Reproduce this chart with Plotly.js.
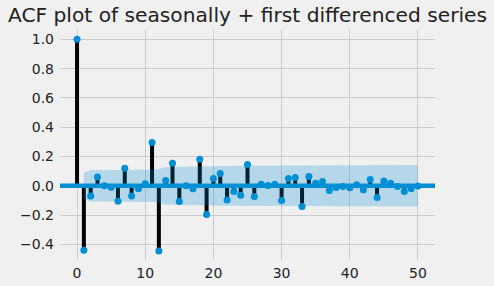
<!DOCTYPE html>
<html>
<head>
<meta charset="utf-8">
<script src="https://cdn.plot.ly/plotly-3.0.1.min.js"></script>
<style>
html,body{margin:0;padding:0;background:#f0f0f0;}
#chart{width:494px;height:286px;}
</style>
</head>
<body>
<div id="chart"></div>
<script>
// Lags and autocorrelation values
const lags = [0,1,2,3,4,5,6,7,8,9,10,11,12,13,14,15,16,17,18,19,20,21,22,23,24,25,26,27,28,29,30,31,32,33,34,35,36,37,38,39,40,41,42,43,44,45,46,47,48,49,50];
const acfValues = [1.0,-0.44,-0.07,0.06,0.0,-0.01,-0.105,0.12,-0.07,-0.02,0.014,0.296,-0.446,0.036,0.153,-0.107,0.0,-0.02,0.182,-0.196,0.05,0.084,-0.098,-0.039,-0.064,0.146,-0.073,0.011,0.002,0.011,-0.10,0.05,0.057,-0.141,0.064,0.018,0.03,-0.032,-0.011,-0.005,-0.014,0.007,-0.027,0.043,-0.08,0.032,0.018,-0.005,-0.039,-0.02,-0.002];
// Confidence band half-width for lags 1..50
const bandLags = lags.slice(1);
const bandHalfWidth = [0.090,0.107,0.107,0.107,0.107,0.107,0.108,0.109,0.109,0.110,0.110,0.116,0.129,0.129,0.131,0.131,0.131,0.131,0.133,0.136,0.136,0.136,0.137,0.137,0.137,0.139,0.139,0.139,0.139,0.139,0.139,0.140,0.140,0.141,0.141,0.141,0.141,0.141,0.141,0.141,0.141,0.141,0.141,0.141,0.142,0.142,0.142,0.142,0.142,0.142];
const xTicks = [0,10,20,30,40,50];
const yTicks = [-0.4,-0.2,0.0,0.2,0.4,0.6,0.8,1.0];
const titleText = 'ACF plot of seasonally + first differenced series';

const xRange = [-2.5, 52.5];
const yRange = [-0.507, 1.064];

const blue = '#008fd5';

// stems
const stemX = [], stemY = [];
lags.forEach((l, i) => { stemX.push(l, l, null); stemY.push(0, acfValues[i], null); });

const traces = [
  {x: stemX, y: stemY, mode: 'lines', line: {color: '#000000', width: 4}, hoverinfo: 'skip', showlegend: false},
  {x: xRange, y: [0, 0], mode: 'lines', line: {color: blue, width: 4.5}, hoverinfo: 'skip', showlegend: false},
  {x: lags, y: acfValues, mode: 'markers', marker: {color: blue, size: 7}, showlegend: false},
  {x: bandLags.concat(bandLags.slice().reverse()),
   y: bandHalfWidth.concat(bandHalfWidth.slice().reverse().map(v => -v)),
   mode: 'lines', fill: 'toself', fillcolor: 'rgba(0,143,213,0.25)', line: {width: 0}, hoverinfo: 'skip', showlegend: false}
];

const font = {family: 'DejaVu Sans, sans-serif', color: '#222222'};

const layout = {
  width: 494, height: 286,
  paper_bgcolor: '#f0f0f0', plot_bgcolor: '#f0f0f0',
  margin: {l: 60, r: 59, t: 30, b: 26, pad: 0},
  font: font,
  title: {text: titleText, font: {family: 'DejaVu Sans, sans-serif', size: 20.2, color: '#222222'},
          x: 0.5, xref: 'paper', xanchor: 'center', y: 0.948, yref: 'container', yanchor: 'middle'},
  xaxis: {range: xRange, tickvals: xTicks, ticktext: xTicks.map(String), showgrid: true, gridcolor: '#cbcbcb', gridwidth: 1,
          zeroline: false, showline: false, ticks: '', tickfont: {size: 14, family: 'DejaVu Sans, sans-serif', color: '#222222'}, ticklabelstandoff: 3},
  yaxis: {range: yRange, tickvals: yTicks, tickformat: '.1f', showgrid: true, gridcolor: '#cbcbcb', gridwidth: 1,
          zeroline: false, showline: false, ticks: '', tickfont: {size: 14, family: 'DejaVu Sans, sans-serif', color: '#222222'}, ticklabelstandoff: 5},
  showlegend: false
};

Plotly.newPlot('chart', traces, layout, {staticPlot: true, displayModeBar: false});
</script>
</body>
</html>
